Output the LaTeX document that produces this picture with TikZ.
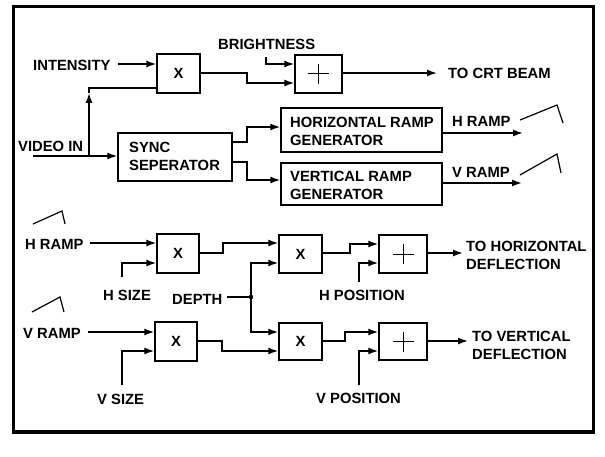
\documentclass[tikz,border=0pt]{standalone}
\usepackage{fontspec}
\setmainfont{Liberation Sans}
\usetikzlibrary{arrows.meta}
\begin{document}
\begin{tikzpicture}[x=1pt,y=-1pt,
  font=\fontsize{14.8}{18}\selectfont\bfseries,
  wire/.style={line width=1.5pt},
  arr/.style={wire,-{Latex[length=10pt,width=7pt]}},
  blk/.style={draw,line width=1.4pt,inner sep=0pt},
  lbl/.style={anchor=west,inner sep=0pt,align=left},
  plus/.style={line width=1pt},
  ramp/.style={line width=1.2pt}]
\useasboundingbox (0,0) rectangle (605,457);
\draw[line width=3.2pt] (13.5,6.5) rectangle (593.5,432);
% blocks
\node[blk,minimum width=43pt,minimum height=39pt] (X1) at (178.5,73.5) {X};
\node[blk,minimum width=47pt,minimum height=38pt] (P1) at (318.5,74) {};
\node[blk,minimum width=114pt,minimum height=48pt] (SYNC) at (175,157) {};
\node[blk,minimum width=161pt,minimum height=44pt] (HRG) at (361.5,130) {};
\node[blk,minimum width=161pt,minimum height=42pt] (VRG) at (361.5,184) {};
\node[blk,minimum width=42pt,minimum height=39pt] (X2) at (178,253.5) {X};
\node[blk,minimum width=43pt,minimum height=38pt] (X3) at (300.5,254) {X};
\node[blk,minimum width=42pt,minimum height=39pt] (X4) at (176,341.5) {X};
\node[blk,minimum width=43pt,minimum height=37pt] (X5) at (300.5,341.5) {X};
\node[blk,minimum width=48pt,minimum height=38pt] (P2) at (403,254) {};
\node[blk,minimum width=48pt,minimum height=37pt] (P3) at (403,341.5) {};
\foreach \p in {P1,P2,P3}{
  \draw[plus] ([xshift=-10.5pt]\p.center) -- ([xshift=10.5pt]\p.center);
  \draw[plus] ([yshift=-10pt]\p.center) -- ([yshift=10pt]\p.center);
}
% texts
\node[lbl] (tSYNC) at (129,156) {SYNC\\SEPERATOR};
\node[lbl] (tHRG) at (290,131) {HORIZONTAL RAMP\\GENERATOR};
\node[lbl] (tVRG) at (290,185) {VERTICAL RAMP\\GENERATOR};
\node[lbl] (intensity) at (33,65) {INTENSITY};
\node[lbl] (bright) at (218,44) {BRIGHTNESS};
\node[lbl] (crt) at (448,73) {TO CRT BEAM};
\node[lbl] (vin) at (18,146) {VIDEO IN};
\node[lbl] (hr1) at (452,121) {H RAMP};
\node[lbl] (vr1) at (452,172) {V RAMP};
\node[lbl] (hr2) at (25,244) {H RAMP};
\node[lbl] (hsize) at (103,295) {H SIZE};
\node[lbl] (depth) at (172,299) {DEPTH};
\node[lbl] (vr2) at (23,333) {V RAMP};
\node[lbl] (vsize) at (97,399) {V SIZE};
\node[lbl] (hpos) at (319,295) {H POSITION};
\node[lbl] (vpos) at (316,398) {V POSITION};
\node[lbl] (thd) at (466,255.5) {TO HORIZONTAL\\DEFLECTION};
\node[lbl] (tvd) at (472,345.5) {TO VERTICAL\\DEFLECTION};
% free ends
\coordinate (vinS) at (33,156);
\coordinate (vj) at (89,156);
\coordinate (intS) at (118,64);
\coordinate (brS) at (266,57);
\coordinate (crtE) at (437,73);
\coordinate (hrE) at (523,133);
\coordinate (vrE) at (522,183);
\coordinate (hr2S) at (90,243);
\coordinate (hsS) at (122,277);
\coordinate (dS) at (227,297);
\coordinate (dj) at (251,297);
\coordinate (vr2S) at (88,332);
\coordinate (vsS) at (122,385);
\coordinate (hpS) at (359,282);
\coordinate (vpS) at (359,385);
\coordinate (thdE) at (463,253);
\coordinate (tvdE) at (468,341);
% top connectors
\draw[arr] (intS) -- (X1.west |- intS);
\draw[arr] (vinS) -- (SYNC.west |- vinS);
\draw[arr] (vj) -- (89,93);
\draw[wire] (89,93) -- (89,88) -- (X1.west |- 0,88);
\draw[arr] (brS) -- (266,64) -- (P1.west |- 0,64);
\draw[arr] (X1.east |- 0,73) -- (247,73) -- (247,83) -- (P1.west |- 0,83);
\draw[arr] (P1.east |- crtE) -- (crtE);
\draw[arr] (SYNC.east |- 0,142) -- (247,142) -- (247,127) -- (HRG.west |- 0,127);
\draw[arr] (SYNC.east |- 0,162) -- (247,162) -- (247,180) -- (VRG.west |- 0,180);
\draw[arr] (HRG.east |- hrE) -- (hrE);
\draw[arr] (VRG.east |- vrE) -- (vrE);
% ramp symbols
\draw[ramp] (520,120) -- (557,105) -- (563,123);
\draw[ramp] (520,175) -- (557,154) -- (561,173);
\draw[ramp] (33,224) -- (62,211) -- (65,224);
\draw[ramp] (32,312) -- (60,297) -- (64,312);
% bottom connectors
\draw[arr] (hr2S) -- (X2.west |- hr2S);
\draw[arr] (hsS) -- (122,263) -- (X2.west |- 0,263);
\draw[arr] (X2.east |- 0,253) -- (223,253) -- (223,243) -- (X3.west |- 0,243);
\draw[wire] (dS) -- (dj);
\fill (dj) circle (2.3pt);
\draw[arr] (dj) -- (251,263) -- (X3.west |- 0,263);
\draw[arr] (dj) -- (251,332) -- (X5.west |- 0,332);
\draw[arr] (vr2S) -- (X4.west |- vr2S);
\draw[arr] (vsS) -- (122,351) -- (X4.west |- 0,351);
\draw[arr] (X4.east |- 0,341) -- (222,341) -- (222,351) -- (X5.west |- 0,351);
\draw[arr] (X3.east |- 0,253) -- (350,253) -- (350,244) -- (P2.west |- 0,244);
\draw[arr] (hpS) -- (359,263) -- (P2.west |- 0,263);
\draw[arr] (P2.east |- thdE) -- (thdE);
\draw[arr] (X5.east |- 0,341) -- (345,341) -- (345,332) -- (P3.west |- 0,332);
\draw[arr] (vpS) -- (359,351) -- (P3.west |- 0,351);
\draw[arr] (P3.east |- tvdE) -- (tvdE);
\end{tikzpicture}
\end{document}
